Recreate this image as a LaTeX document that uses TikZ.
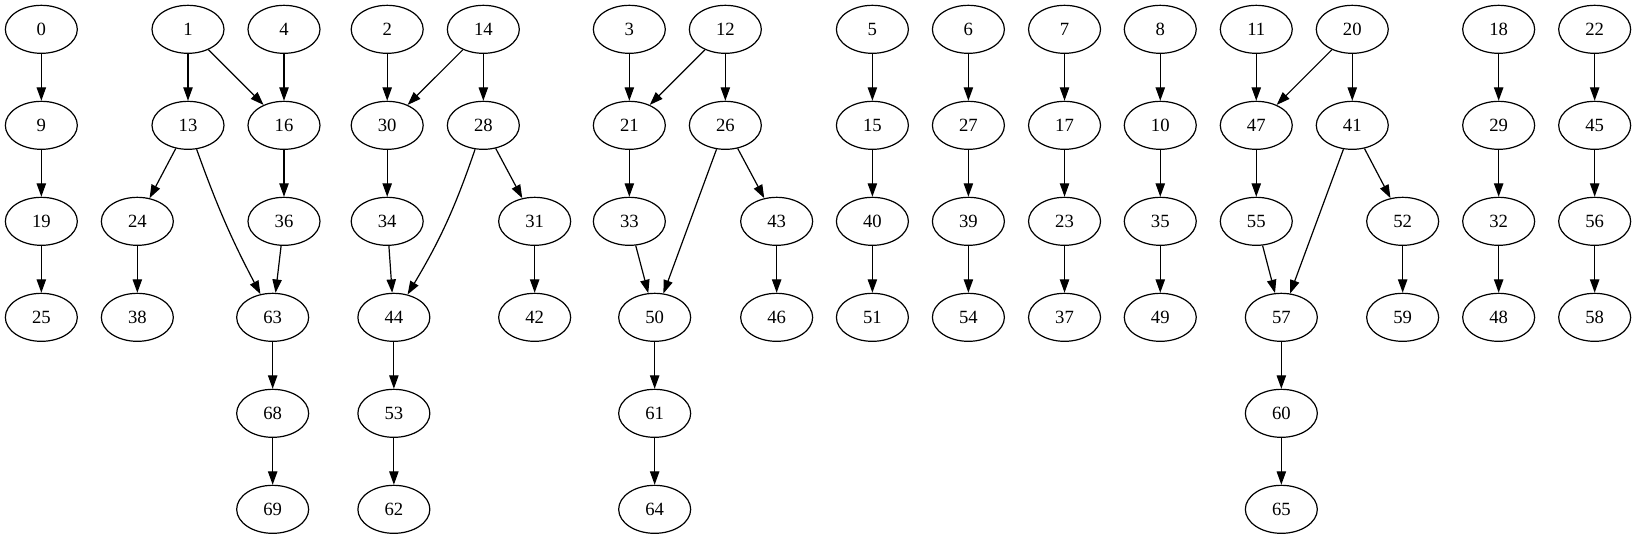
\documentclass[tikz,border=0pt]{standalone}
\usepackage{fontspec}
\setmainfont{Liberation Serif}
\usetikzlibrary{shapes.geometric,arrows.meta}
\tikzset{
  gnode/.style={ellipse, draw, line width=0.9pt, minimum width=54pt, minimum height=36pt, inner sep=0pt, font=\fontsize{14}{16}\selectfont},
  gedge/.style={line width=0.9pt, -{Triangle[length=10pt,width=7pt]}}
}
\begin{document}
\begin{tikzpicture}[x=1pt,y=1pt]
\useasboundingbox (0,0) rectangle (1227,404.25);
\def\rA{382.25}\def\rB{310.25}\def\rC{238.25}\def\rD{166.25}\def\rE{94.25}\def\rF{22.25}
% column 0
\node[gnode] (n0) at (31,\rA) {0};
\node[gnode] (n9) at (31,\rB) {9};
\node[gnode] (n19) at (31,\rC) {19};
\node[gnode] (n25) at (31,\rD) {25};
% component 1,4
\node[gnode] (n1) at (141,\rA) {1};
\node[gnode] (n4) at (213,\rA) {4};
\node[gnode] (n13) at (141,\rB) {13};
\node[gnode] (n16) at (213,\rB) {16};
\node[gnode] (n24) at (103,\rC) {24};
\node[gnode] (n36) at (213,\rC) {36};
\node[gnode] (n38) at (103,\rD) {38};
\node[gnode] (n63) at (204.5,\rD) {63};
\node[gnode] (n68) at (204.5,\rE) {68};
\node[gnode] (n69) at (204.5,\rF) {69};
% component 2,14
\node[gnode] (n2) at (290.4,\rA) {2};
\node[gnode] (n14) at (362.5,\rA) {14};
\node[gnode] (n30) at (290.4,\rB) {30};
\node[gnode] (n28) at (362.5,\rB) {28};
\node[gnode] (n34) at (290.4,\rC) {34};
\node[gnode] (n31) at (401,\rC) {31};
\node[gnode] (n44) at (295.4,\rD) {44};
\node[gnode] (n42) at (401,\rD) {42};
\node[gnode] (n53) at (295.4,\rE) {53};
\node[gnode] (n62) at (295.4,\rF) {62};
% component 3,12
\node[gnode] (n3) at (472,\rA) {3};
\node[gnode] (n12) at (544,\rA) {12};
\node[gnode] (n21) at (472,\rB) {21};
\node[gnode] (n26) at (544,\rB) {26};
\node[gnode] (n33) at (472,\rC) {33};
\node[gnode] (n43) at (582.5,\rC) {43};
\node[gnode] (n50) at (491,\rD) {50};
\node[gnode] (n46) at (582.5,\rD) {46};
\node[gnode] (n61) at (491,\rE) {61};
\node[gnode] (n64) at (491,\rF) {64};
% chains
\node[gnode] (n5) at (654.3,\rA) {5};
\node[gnode] (n15) at (654.3,\rB) {15};
\node[gnode] (n40) at (654.3,\rC) {40};
\node[gnode] (n51) at (654.3,\rD) {51};
\node[gnode] (n6) at (726.3,\rA) {6};
\node[gnode] (n27) at (726.3,\rB) {27};
\node[gnode] (n39) at (726.3,\rC) {39};
\node[gnode] (n54) at (726.3,\rD) {54};
\node[gnode] (n7) at (798.4,\rA) {7};
\node[gnode] (n17) at (798.4,\rB) {17};
\node[gnode] (n23) at (798.4,\rC) {23};
\node[gnode] (n37) at (798.4,\rD) {37};
\node[gnode] (n8) at (870.2,\rA) {8};
\node[gnode] (n10) at (870.2,\rB) {10};
\node[gnode] (n35) at (870.2,\rC) {35};
\node[gnode] (n49) at (870.2,\rD) {49};
% component 11,20
\node[gnode] (n11) at (942.2,\rA) {11};
\node[gnode] (n20) at (1014.2,\rA) {20};
\node[gnode] (n47) at (942.2,\rB) {47};
\node[gnode] (n41) at (1014.2,\rB) {41};
\node[gnode] (n55) at (942.2,\rC) {55};
\node[gnode] (n52) at (1052,\rC) {52};
\node[gnode] (n57) at (961,\rD) {57};
\node[gnode] (n59) at (1052,\rD) {59};
\node[gnode] (n60) at (961,\rE) {60};
\node[gnode] (n65) at (961,\rF) {65};
% chains right
\node[gnode] (n18) at (1124,\rA) {18};
\node[gnode] (n29) at (1124,\rB) {29};
\node[gnode] (n32) at (1124,\rC) {32};
\node[gnode] (n48) at (1124,\rD) {48};
\node[gnode] (n22) at (1196,\rA) {22};
\node[gnode] (n45) at (1196,\rB) {45};
\node[gnode] (n56) at (1196,\rC) {56};
\node[gnode] (n58) at (1196,\rD) {58};
% edges
\draw[gedge] (n0) -- (n9);
\draw[gedge] (n9) -- (n19);
\draw[gedge] (n19) -- (n25);
\draw[gedge] (n1) -- (n13);
\draw[gedge] (n1) -- (n16);
\draw[gedge] (n4) -- (n16);
\draw[gedge] (n13) -- (n24);
\draw[gedge] (n13) to[bend right=4] (n63);
\draw[gedge] (n16) -- (n36);
\draw[gedge] (n36) -- (n63);
\draw[gedge] (n24) -- (n38);
\draw[gedge] (n63) -- (n68);
\draw[gedge] (n68) -- (n69);
\draw[gedge] (n2) -- (n30);
\draw[gedge] (n14) -- (n30);
\draw[gedge] (n14) -- (n28);
\draw[gedge] (n30) -- (n34);
\draw[gedge] (n34) -- (n44);
\draw[gedge] (n28) to[bend left=6] (n44);
\draw[gedge] (n28) -- (n31);
\draw[gedge] (n31) -- (n42);
\draw[gedge] (n44) -- (n53);
\draw[gedge] (n53) -- (n62);
\draw[gedge] (n3) -- (n21);
\draw[gedge] (n12) -- (n21);
\draw[gedge] (n12) -- (n26);
\draw[gedge] (n21) -- (n33);
\draw[gedge] (n33) -- (n50);
\draw[gedge] (n26) -- (n50);
\draw[gedge] (n26) -- (n43);
\draw[gedge] (n43) -- (n46);
\draw[gedge] (n50) -- (n61);
\draw[gedge] (n61) -- (n64);
\draw[gedge] (n5) -- (n15);
\draw[gedge] (n15) -- (n40);
\draw[gedge] (n40) -- (n51);
\draw[gedge] (n6) -- (n27);
\draw[gedge] (n27) -- (n39);
\draw[gedge] (n39) -- (n54);
\draw[gedge] (n7) -- (n17);
\draw[gedge] (n17) -- (n23);
\draw[gedge] (n23) -- (n37);
\draw[gedge] (n8) -- (n10);
\draw[gedge] (n10) -- (n35);
\draw[gedge] (n35) -- (n49);
\draw[gedge] (n11) -- (n47);
\draw[gedge] (n20) -- (n47);
\draw[gedge] (n20) -- (n41);
\draw[gedge] (n47) -- (n55);
\draw[gedge] (n55) -- (n57);
\draw[gedge] (n41) -- (n57);
\draw[gedge] (n41) -- (n52);
\draw[gedge] (n52) -- (n59);
\draw[gedge] (n57) -- (n60);
\draw[gedge] (n60) -- (n65);
\draw[gedge] (n18) -- (n29);
\draw[gedge] (n29) -- (n32);
\draw[gedge] (n32) -- (n48);
\draw[gedge] (n22) -- (n45);
\draw[gedge] (n45) -- (n56);
\draw[gedge] (n56) -- (n58);
\end{tikzpicture}
\end{document}
